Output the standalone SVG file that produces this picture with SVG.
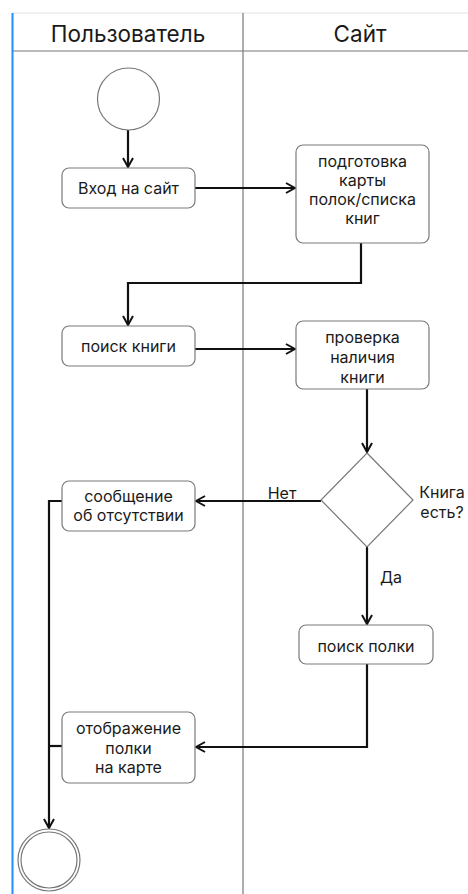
<svg xmlns="http://www.w3.org/2000/svg" width="468" height="894" viewBox="0 0 468 894">
<defs>
<marker id="arr" viewBox="0 0 12 12" refX="11" refY="6" markerWidth="12" markerHeight="12" markerUnits="userSpaceOnUse" orient="auto">
<path d="M2,1 L11,6 L2,11" fill="none" stroke="#111" stroke-width="2"/>
</marker>
<style>
.box{fill:#fff;stroke:#7a7a7a;stroke-width:1.2}
.t{font-family:Inter,"Liberation Sans",sans-serif;font-size:16px;fill:#1a1a1a;text-anchor:middle;dominant-baseline:central}
.h{font-family:Inter,"Liberation Sans",sans-serif;font-size:22.5px;fill:#1a1a1a;text-anchor:middle;dominant-baseline:central}
.c{fill:none;stroke:#111;stroke-width:2.2}
.lane{stroke:#777;stroke-width:1.2;fill:none}
</style>
</defs>
<rect width="468" height="894" fill="#fff"/>
<g id="lanes">
<line x1="12" y1="13" x2="468" y2="13" stroke="#e2e2e2" stroke-width="1"/>
<line x1="12" y1="51" x2="468" y2="51" class="lane"/>
<line x1="243" y1="13" x2="243" y2="894" class="lane"/>
<line x1="12.5" y1="13" x2="12.5" y2="894" stroke="#1e90ff" stroke-width="2"/>
<text class="h" x="128" y="33">Пользователь</text>
<text class="h" x="360" y="33">Сайт</text>
</g>
<g id="connectors">
<line class="c" x1="128" y1="130" x2="128" y2="167" marker-end="url(#arr)"/>
<line class="c" x1="195" y1="188" x2="295" y2="188" marker-end="url(#arr)"/>
<polyline class="c" points="361,243 361,283 128,283 128,325" marker-end="url(#arr)"/>
<line class="c" x1="195" y1="349" x2="295" y2="349" marker-end="url(#arr)"/>
<line class="c" x1="367" y1="389" x2="367" y2="452" marker-end="url(#arr)"/>
<line class="c" x1="321" y1="501" x2="196" y2="501" marker-end="url(#arr)"/>
<line class="c" x1="367" y1="547" x2="367" y2="624" marker-end="url(#arr)"/>
<polyline class="c" points="367,664 367,747 196,747" marker-end="url(#arr)"/>
<polyline class="c" points="62,501 49,501 49,828" marker-end="url(#arr)"/>
<line class="c" x1="62" y1="746" x2="49" y2="746"/>
<text class="t" x="282" y="493">Нет</text>
<text class="t" x="391" y="577">Да</text>
</g>
<g id="start">
<circle cx="128.5" cy="99" r="31" fill="#fff" stroke="#777" stroke-width="1.2"/>
</g>
<g id="vhod">
<rect class="box" x="62" y="168" width="133" height="40" rx="7"/>
<text class="t" x="128.5" y="188">Вход на сайт</text>
</g>
<g id="podgotovka">
<rect class="box" x="296" y="145" width="133" height="98" rx="7"/>
<text class="t" x="362.5" y="161">подготовка</text>
<text class="t" x="362.5" y="180">карты</text>
<text class="t" x="362.5" y="199">полок/списка</text>
<text class="t" x="362.5" y="218">книг</text>
</g>
<g id="poisk-knigi">
<rect class="box" x="62" y="326" width="133" height="40" rx="7"/>
<text class="t" x="128.5" y="346">поиск книги</text>
</g>
<g id="proverka">
<rect class="box" x="296" y="321" width="133" height="68" rx="7"/>
<text class="t" x="362.5" y="337">проверка</text>
<text class="t" x="362.5" y="357">наличия</text>
<text class="t" x="362.5" y="377">книги</text>
</g>
<g id="decision">
<polygon points="367,453 413,500 367,547 321,500" fill="#fff" stroke="#777" stroke-width="1.2"/>
<text class="t" x="442" y="492">Книга</text>
<text class="t" x="442" y="512">есть?</text>
</g>
<g id="soobshchenie">
<rect class="box" x="62" y="481" width="133" height="50" rx="7"/>
<text class="t" x="128.5" y="496">сообщение</text>
<text class="t" x="128.5" y="515">об отсутствии</text>
</g>
<g id="poisk-polki">
<rect class="box" x="299" y="625" width="134" height="39" rx="7"/>
<text class="t" x="366" y="646">поиск полки</text>
</g>
<g id="otobrazhenie">
<rect class="box" x="62" y="712" width="133" height="71" rx="7"/>
<text class="t" x="128.5" y="728">отображение</text>
<text class="t" x="128.5" y="748">полки</text>
<text class="t" x="128.5" y="767">на карте</text>
</g>
<g id="end">
<circle cx="49" cy="860" r="31" fill="#fff" stroke="#777" stroke-width="1.2"/>
<circle cx="49" cy="860" r="28" fill="none" stroke="#777" stroke-width="1.2"/>
</g>
</svg>
